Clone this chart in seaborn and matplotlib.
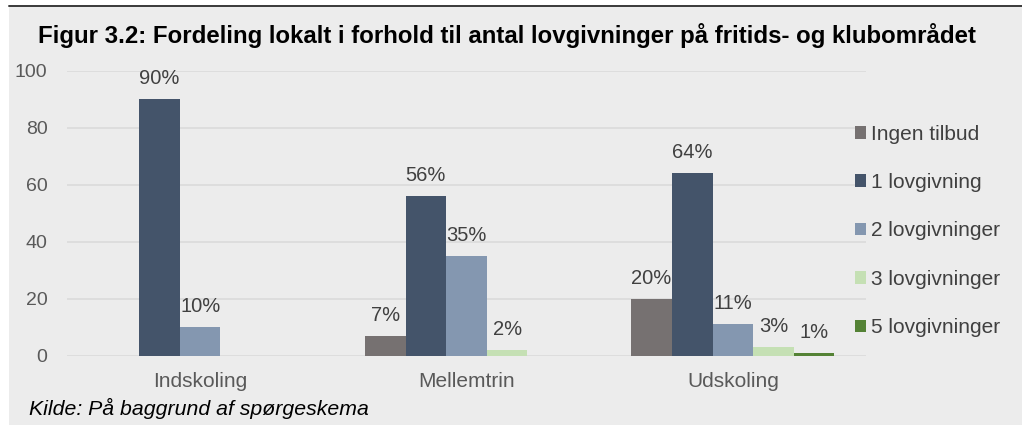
import matplotlib
matplotlib.use("Agg")
import matplotlib.pyplot as plt
from matplotlib.patches import Rectangle
from matplotlib.lines import Line2D
import seaborn as sns
import pandas as pd

categories = ["Indskoling", "Mellemtrin", "Udskoling"]
series = ["Ingen tilbud", "1 lovgivning", "2 lovgivninger", "3 lovgivninger", "5 lovgivninger"]
ingen_tilbud = [0, 7, 20]
lov1 = [90, 56, 64]
lov2 = [10, 35, 11]
lov3 = [0, 2, 3]
lov5 = [0, 0, 1]
colors = ["#767171", "#44546a", "#8497b0", "#c5e0b4", "#548235"]
y_ticks = [0, 20, 40, 60, 80, 100]

title = "Figur 3.2: Fordeling lokalt i forhold til antal lovgivninger på fritids- og klubområdet"
source = "Kilde: På baggrund af spørgeskema"

rows = []
for s, vals in zip(series, [ingen_tilbud, lov1, lov2, lov3, lov5]):
    for c, v in zip(categories, vals):
        rows.append({"cat": c, "serie": s, "val": v})
df = pd.DataFrame(rows)

sns.set_theme(style="white")
plt.rcParams["font.family"] = ["Liberation Sans", "DejaVu Sans"]

W, H = 1022, 425
fig = plt.figure(figsize=(W / 100, H / 100), dpi=100, facecolor="white")
bg = "#ececec"
fig.add_artist(Rectangle((9 / W, 0), 1, (H - 5) / H, transform=fig.transFigure,
                         facecolor=bg, edgecolor="none", zorder=-10))
fig.add_artist(Line2D([9 / W, 1], [1 - 5.5 / H, 1 - 5.5 / H], transform=fig.transFigure,
                      color="#3a3a3a", linewidth=1.4))

left, right = 67 / W, 866 / W
top, bottom = 1 - 70.7 / H, 1 - 355.7 / H
ax = fig.add_axes([left, bottom, right - left, top - bottom])
ax.set_facecolor("none")

sns.barplot(data=df, x="cat", y="val", hue="serie", order=categories, hue_order=series,
            palette=colors, width=0.763, gap=0, ax=ax, saturation=1, legend=True,
            linewidth=0, errorbar=None)

for cont in ax.containers:
    labels = [f"{v:.0f}%" if v > 0 else "" for v in cont.datavalues]
    ax.bar_label(cont, labels=labels, padding=8, fontsize=14.5, color="#404040")

ax.set_xlim(-0.5, 2.5)
ax.set_ylim(0, 100)
ax.set_yticks(y_ticks)
ax.yaxis.grid(True, color="#d9d9d9", linewidth=1.1)
ax.set_axisbelow(True)
for sp in ax.spines.values():
    sp.set_visible(False)
ax.tick_params(axis="y", length=0, pad=14, labelsize=14, labelcolor="#595959")
ax.tick_params(axis="x", length=0, pad=12, labelsize=15, labelcolor="#595959")
ax.set_xlabel("")
ax.set_ylabel("")

handles, labs = ax.get_legend_handles_labels()
ax.legend(handles, labs, loc="center left", bbox_to_anchor=(855 / W, 1 - 231 / H),
          bbox_transform=fig.transFigure, frameon=False, fontsize=15,
          handlelength=0.55, handleheight=0.55, handletextpad=0.2,
          labelspacing=1.41, borderpad=0, borderaxespad=0, labelcolor="#404040")

fig.text(38 / W, 1 - 43 / H, title, fontsize=17.3, fontweight="bold", color="black",
         ha="left", va="baseline")
fig.text(29 / W, 1 - 415 / H, source, fontsize=15.3, fontstyle="italic", color="black",
         ha="left", va="baseline")

fig.savefig("out.png", dpi=100, facecolor=fig.get_facecolor())
